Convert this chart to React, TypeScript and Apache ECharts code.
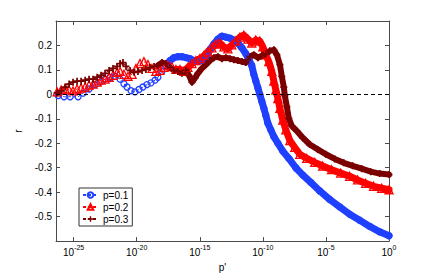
import React, { useEffect, useRef } from "react";
import * as echarts from "echarts";

// x values are log10(p')
const blueLogP = [-26.23,-25.76,-25.28,-24.65,-24.25,-23.78,-23.30,-22.90,-22.51,-22.11,-21.72,-21.32,-21.01,-20.77,-20.45,-20.14,-19.82,-19.51,-19.19,-18.87,-18.55,-18.32,-18.00,-17.68,-17.36,-17.05,-16.73,-16.42,-16.10,-15.78,-15.47,-15.15,-14.83,-14.51,-14.20,-13.88,-13.56,-13.25,-12.93,-12.61,-12.30,-11.98,-11.66,-11.35,-11.11,-10.88,-10.72,-10.56,-10.40,-10.24,-10.08,-9.92,-9.77,-9.61,-9.37,-9.13,-8.81,-8.42,-7.94,-7.39,-6.83,-6.20,-5.49,-4.70,-3.91,-3.12,-2.32,-1.53,-0.74,0];
const blueR = [-0.005,-0.01,-0.01,-0.01,0.005,0.022,0.04,0.05,0.062,0.07,0.074,0.062,0.043,0.03,0.015,0.01,0.02,0.03,0.04,0.047,0.058,0.07,0.094,0.118,0.138,0.15,0.154,0.154,0.15,0.146,0.138,0.134,0.138,0.154,0.182,0.206,0.226,0.238,0.234,0.23,0.222,0.21,0.19,0.166,0.142,0.118,0.082,0.055,0.027,-0.001,-0.029,-0.057,-0.085,-0.117,-0.145,-0.173,-0.2,-0.232,-0.262,-0.3,-0.33,-0.36,-0.395,-0.43,-0.46,-0.49,-0.515,-0.54,-0.562,-0.578];

const redLogP = [-26.31,-25.99,-25.68,-25.36,-25.05,-24.73,-24.41,-24.09,-23.78,-23.46,-23.14,-22.83,-22.51,-22.19,-21.88,-21.56,-21.32,-21.01,-20.69,-20.37,-20.06,-19.74,-19.43,-19.11,-18.79,-18.48,-18.16,-17.84,-17.52,-17.21,-16.89,-16.57,-16.26,-15.94,-15.62,-15.31,-14.99,-14.67,-14.36,-14.04,-13.72,-13.41,-13.09,-12.77,-12.46,-12.14,-11.82,-11.51,-11.19,-10.88,-10.56,-10.24,-10.00,-9.77,-9.53,-9.29,-9.13,-8.97,-8.81,-8.65,-8.42,-8.18,-7.86,-7.47,-7.07,-6.52,-5.89,-5.26,-4.55,-3.83,-3.12,-2.49,-1.85,-1.22,-0.58,0];
const redR = [0.01,0.018,0.022,0.018,0.014,0.022,0.026,0.03,0.038,0.042,0.05,0.058,0.062,0.07,0.078,0.09,0.094,0.082,0.074,0.082,0.106,0.126,0.134,0.122,0.106,0.094,0.098,0.11,0.118,0.114,0.102,0.102,0.094,0.11,0.126,0.138,0.146,0.158,0.174,0.19,0.206,0.21,0.194,0.186,0.202,0.218,0.234,0.242,0.226,0.21,0.222,0.218,0.194,0.162,0.134,0.094,0.054,0.018,-0.017,-0.057,-0.105,-0.145,-0.189,-0.217,-0.245,-0.262,-0.278,-0.293,-0.308,-0.322,-0.335,-0.35,-0.364,-0.376,-0.384,-0.39];

const darkLogP = [-26.31,-25.99,-25.68,-25.36,-25.05,-24.73,-24.41,-24.09,-23.78,-23.46,-23.14,-22.83,-22.51,-22.19,-21.88,-21.56,-21.32,-21.09,-20.85,-20.53,-20.21,-19.90,-19.58,-19.27,-18.95,-18.63,-18.32,-18.00,-17.68,-17.36,-17.05,-16.73,-16.42,-16.10,-15.86,-15.62,-15.39,-15.15,-14.83,-14.51,-14.20,-13.88,-13.56,-13.25,-12.93,-12.61,-12.30,-11.98,-11.66,-11.35,-11.03,-10.72,-10.40,-10.08,-9.77,-9.45,-9.13,-8.89,-8.65,-8.50,-8.34,-8.26,-8.10,-7.95,-7.71,-7.32,-6.84,-6.28,-5.65,-5.01,-4.30,-3.59,-2.88,-2.16,-1.45,-0.74,0];
const darkR = [0.006,0.014,0.03,0.042,0.05,0.054,0.054,0.058,0.062,0.062,0.07,0.078,0.086,0.098,0.106,0.114,0.126,0.13,0.114,0.098,0.09,0.094,0.098,0.102,0.11,0.114,0.118,0.13,0.126,0.11,0.098,0.094,0.086,0.098,0.078,0.05,0.066,0.086,0.106,0.122,0.138,0.15,0.154,0.146,0.15,0.146,0.142,0.138,0.134,0.13,0.154,0.162,0.15,0.158,0.166,0.178,0.182,0.162,0.122,0.074,0.03,-0.005,-0.05,-0.097,-0.129,-0.149,-0.177,-0.205,-0.225,-0.245,-0.264,-0.28,-0.292,-0.304,-0.316,-0.324,-0.328];

const seriesNames = ["p=0.1", "p=0.2", "p=0.3"];
const xTickExponents = [-25, -20, -15, -10, -5, 0];
const yTicks = [-0.5, -0.4, -0.3, -0.2, -0.1, 0, 0.1, 0.2];

const BLUE = "#2040ff";
const RED = "#ff0000";
const DARK = "#7a0000";
const AXIS = "#4a4a4a";
const FONT = "'Liberation Sans', Arial, sans-serif";

const zip = (xs: number[], ys: number[]) => xs.map((x, i) => [x, ys[i]]);

export default function App() {
  const ref = useRef<HTMLDivElement>(null);
  useEffect(() => {
    if (!ref.current) return;
    const chart = echarts.init(ref.current, undefined, { renderer: "svg" });
    const blue = zip(blueLogP, blueR);
    const red = zip(redLogP, redR);
    const dark = zip(darkLogP, darkR);

    const mainSeries = (name: string, data: number[][], color: string, symbol: string, size: number, filled: boolean, extra: any = {}) => ({
      type: "line",
      name,
      data,
      z: 3,
      symbol,
      symbolSize: size,
      showAllSymbol: true,
      lineStyle: { color, width: 1, type: [3, 2] },
      itemStyle: filled
        ? { color, borderWidth: 0 }
        : { color: "rgba(0,0,0,0)", borderColor: color, borderWidth: 1.3 },
      emphasis: { disabled: true },
      ...extra,
    });
    const bandSeries = (name: string, data: number[][], color: string, width: number) => ({
      type: "line",
      name,
      data,
      z: 2,
      symbol: "none",
      silent: true,
      lineStyle: { color, width, cap: "round", join: "round" },
      emphasis: { disabled: true },
    });

    const option: any = {
      animation: false,
      textStyle: { fontFamily: FONT },
      grid: { left: 56, right: 41, top: 21, bottom: 31 },
      legend: {
        orient: "vertical",
        left: 79,
        top: 188,
        data: seriesNames,
        itemWidth: 15,
        itemHeight: 7,
        itemGap: 2,
        padding: [2, 4, 2, 3],
        borderColor: "#333",
        borderWidth: 1,
        backgroundColor: "#fff",
        textStyle: { fontSize: 10, color: "#000", fontFamily: FONT },
        selectedMode: false,
      },
      xAxis: [
        {
          type: "value",
          min: -26.4,
          max: 0,
          position: "bottom",
          name: "p'",
          nameLocation: "middle",
          nameGap: 16,
          nameTextStyle: { fontSize: 10, color: "#000", fontFamily: FONT },
          axisLine: { show: true, onZero: false, lineStyle: { color: AXIS } },
          axisTick: { show: true, inside: true, length: 4, customValues: xTickExponents, lineStyle: { color: AXIS } },
          axisLabel: {
            customValues: xTickExponents,
            margin: 3,
            formatter: (v: number) => `{b|10}{s|${Math.round(v)}}`,
            rich: {
              b: { fontSize: 10, lineHeight: 16, color: "#000", fontFamily: FONT },
              s: { fontSize: 7, lineHeight: 7, verticalAlign: "top", color: "#000", fontFamily: FONT },
            },
          },
          splitLine: { show: false },
        },
        {
          type: "value",
          min: -26.4,
          max: 0,
          position: "top",
          axisLine: { show: true, onZero: false, lineStyle: { color: AXIS } },
          axisTick: { show: true, inside: true, length: 4, customValues: xTickExponents, lineStyle: { color: AXIS } },
          axisLabel: { show: false },
          splitLine: { show: false },
        },
      ],
      yAxis: [
        {
          type: "value",
          min: -0.6,
          max: 0.3,
          position: "left",
          name: "r",
          nameLocation: "middle",
          nameGap: 27,
          nameRotate: 90,
          nameTextStyle: { fontSize: 10, color: "#000", fontFamily: FONT },
          axisLine: { show: true, onZero: false, lineStyle: { color: AXIS } },
          axisTick: { show: true, inside: true, length: 4, customValues: yTicks, lineStyle: { color: AXIS } },
          axisLabel: {
            customValues: yTicks,
            margin: 4,
            fontSize: 10,
            color: "#000",
            fontFamily: FONT,
            formatter: (v: number) => (Math.abs(v) < 1e-9 ? "0" : v.toFixed(1)),
          },
          splitLine: { show: false },
        },
        {
          type: "value",
          min: -0.6,
          max: 0.3,
          position: "right",
          axisLine: { show: true, onZero: false, lineStyle: { color: AXIS } },
          axisTick: { show: true, inside: true, length: 4, customValues: yTicks, lineStyle: { color: AXIS } },
          axisLabel: { show: false },
          splitLine: { show: false },
        },
      ],
      series: [
        mainSeries(seriesNames[0], blue, BLUE, "circle", 6, false, {
          markLine: {
            silent: true,
            symbol: "none",
            label: { show: false },
            lineStyle: { color: "#000", width: 1, type: [4, 3] },
            data: [{ yAxis: 0 }],
          },
        }),
        mainSeries(seriesNames[1], red, RED, "triangle", 8, false),
        mainSeries(seriesNames[2], dark, DARK, "path://M3,0H5V3H8V5H5V8H3V5H0V3H3Z", 7, true),
        bandSeries(seriesNames[0], blue.slice(24), BLUE, 7),
        bandSeries(seriesNames[1], red.slice(30), RED, 7),
        bandSeries(seriesNames[2], dark.slice(26), DARK, 6),
      ],
    };
    chart.setOption(option);
    return () => chart.dispose();
  }, []);
  return (
    <div
      ref={ref}
      style={{ position: "fixed", left: 0, top: 0, width: 430, height: 277, background: "#fff" }}
    />
  );
}
